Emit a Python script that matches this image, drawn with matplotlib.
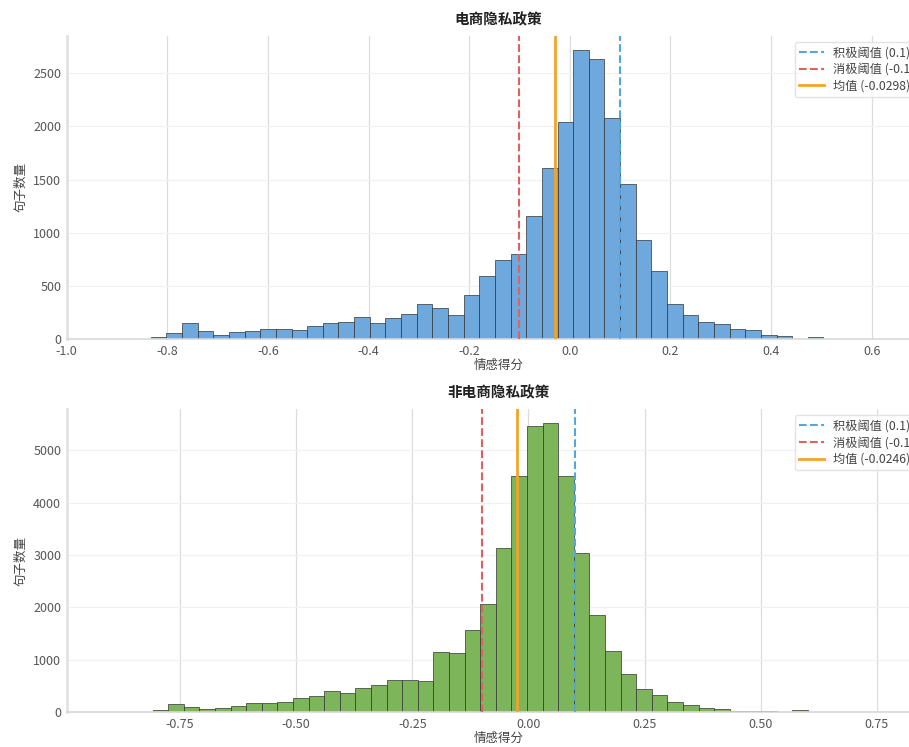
import numpy as np
import matplotlib
matplotlib.use("Agg")
import matplotlib.pyplot as plt

plt.rcParams['font.family'] = ['Noto Sans CJK SC', 'DejaVu Sans']
plt.rcParams['axes.unicode_minus'] = False

# 电商隐私政策: bin start, bin width, counts
ec_start = -0.833
ec_width = 0.0311
ec_counts = [25, 63, 150, 75, 44, 69, 75, 94, 100, 88,
             128, 150, 163, 213, 153, 197, 238, 332, 291, 228,
             413, 592, 745, 802, 1162, 1606, 2041, 2717, 2633, 2076,
             1459, 936, 642, 329, 232, 163, 144, 94, 85, 41,
             28, 6, 19, 5, 5, 4, 3]
ec_mean = -0.0298

# 非电商隐私政策
nec_start = -0.8094
nec_width = 0.0336
nec_counts = [51, 152, 102, 57, 89, 121, 172, 184, 197, 267,
              305, 407, 368, 457, 521, 623, 616, 604, 1150, 1124,
              1576, 2058, 3126, 4511, 5457, 5508, 4511, 3043, 1861, 1163,
              724, 445, 324, 197, 133, 83, 57, 32, 19, 19,
              13, 38, 13]
nec_mean = -0.0246

pos_th = 0.1
neg_th = -0.1

fig = plt.figure(figsize=(9.09, 7.47), dpi=100)
ax1 = fig.add_axes([0.0734, 0.5458, 0.9497, 0.4064])
ax2 = fig.add_axes([0.0734, 0.0465, 0.9497, 0.406])


def draw(ax, start, width, counts, mean, color, title, xlim, xticks, xfmt):
    edges = start + width * np.arange(len(counts) + 1)
    ax.hist(edges[:-1], bins=edges, weights=counts, color=color,
            edgecolor='#333333', linewidth=0.5, zorder=2)
    ax.axvline(pos_th, color='#55a7db', linestyle='--', linewidth=1.5,
               label='积极阈值 (0.1)', zorder=3)
    ax.axvline(neg_th, color='#e06060', linestyle='--', linewidth=1.5,
               label='消极阈值 (-0.1)', zorder=3)
    ax.axvline(mean, color='#f2a42a', linestyle='-', linewidth=2,
               label='均值 (%.4f)' % mean, zorder=3)
    ax.set_xlim(*xlim)
    ax.set_ylim(0, max(counts) * 1.05)
    ax.set_xticks(xticks)
    ax.set_xticklabels([xfmt % t for t in xticks])
    ax.set_title(title, fontsize=10.5, fontweight='bold', color='#222222', pad=8)
    ax.set_xlabel('情感得分', fontsize=9, color='#444444', labelpad=1)
    ax.set_ylabel('句子数量', fontsize=9, color='#444444')
    ax.grid(axis='x', color='#dcdcdc', linewidth=0.9, zorder=0)
    ax.grid(axis='y', color='#f1f1f1', linewidth=0.9, zorder=0)
    ax.set_axisbelow(True)
    for s in ['top', 'right']:
        ax.spines[s].set_visible(False)
    ax.spines['left'].set_color('#e2e2e2')
    ax.spines['left'].set_linewidth(2)
    ax.spines['bottom'].set_color('#d8d8d8')
    ax.spines['bottom'].set_linewidth(1.2)
    ax.tick_params(length=0, labelsize=9, labelcolor='#555555', pad=4)
    leg = ax.legend(loc='upper left', bbox_to_anchor=(0.8436, 0.979),
                    fontsize=8.8, frameon=True, borderaxespad=0,
                    handlelength=2.0, labelspacing=0.3, borderpad=0.35)
    leg.get_frame().set_edgecolor('#dddddd')
    for t in leg.get_texts():
        t.set_color('#444444')


draw(ax1, ec_start, ec_width, ec_counts, ec_mean, '#6fa8dc', '电商隐私政策',
     (-1.0, 0.716), [-1.0, -0.8, -0.6, -0.4, -0.2, 0.0, 0.2, 0.4, 0.6], '%.1f')
draw(ax2, nec_start, nec_width, nec_counts, nec_mean, '#7db65a', '非电商隐私政策',
     (-0.9944, 0.8647), [-0.75, -0.5, -0.25, 0.0, 0.25, 0.5, 0.75], '%.2f')
ax1.set_yticks([0, 500, 1000, 1500, 2000, 2500])
ax2.set_yticks([0, 1000, 2000, 3000, 4000, 5000])

fig.savefig('out.png', dpi=100)
